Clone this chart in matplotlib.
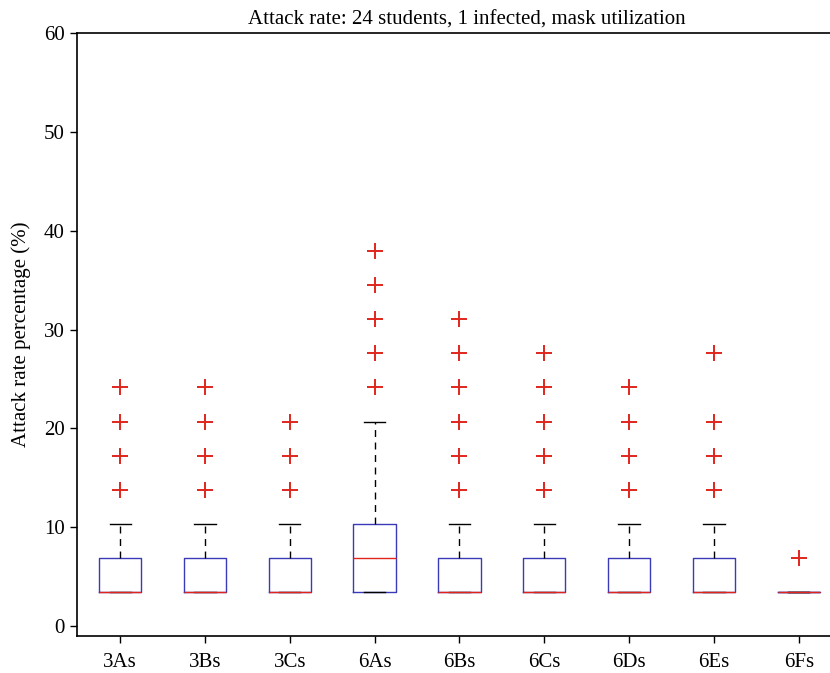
import numpy as np
import matplotlib.pyplot as plt

# attack-rate summary per classroom scenario (%)
groups = ['3As', '3Bs', '3Cs', '6As', '6Bs', '6Cs', '6Ds', '6Es', '6Fs']
q1 = [3.45, 3.45, 3.45, 3.45, 3.45, 3.45, 3.45, 3.45, 3.45]
med = [3.45, 3.45, 3.45, 6.90, 3.45, 3.45, 3.45, 3.45, 3.45]
q3 = [6.90, 6.90, 6.90, 10.34, 6.90, 6.90, 6.90, 6.90, 3.45]
wlo = [3.45, 3.45, 3.45, 3.45, 3.45, 3.45, 3.45, 3.45, 3.45]
whi = [10.34, 10.34, 10.34, 20.69, 10.34, 10.34, 10.34, 10.34, 3.45]
outliers = [
    [13.79, 17.24, 20.69, 24.14],
    [13.79, 17.24, 20.69, 24.14],
    [13.79, 17.24, 20.69],
    [24.14, 27.59, 31.03, 34.48, 37.93],
    [13.79, 17.24, 20.69, 24.14, 27.59, 31.03],
    [13.79, 17.24, 20.69, 24.14, 27.59],
    [13.79, 17.24, 20.69, 24.14],
    [13.79, 17.24, 20.69, 27.59],
    [6.90],
]

plt.rcParams['font.family'] = ['Liberation Serif', 'DejaVu Serif']

stats = []
for i, g in enumerate(groups):
    stats.append({'label': g, 'q1': q1[i], 'med': med[i], 'q3': q3[i],
                  'whislo': wlo[i], 'whishi': whi[i], 'fliers': outliers[i]})

fig = plt.figure(figsize=(8.3, 6.73), dpi=100)
ax = fig.add_axes([0.0928, 0.055, 0.94, 0.896])

BLUE = '#3a3ab8'
RED = '#e0261c'
pos = np.arange(1, len(groups) + 1)
ax.bxp(stats, positions=pos, widths=0.5, capwidths=0.25,
       boxprops=dict(color=BLUE, linewidth=1.0),
       medianprops=dict(color=RED, linewidth=1.0),
       whiskerprops=dict(color='black', linestyle=(0, (5, 4)), linewidth=1.0),
       capprops=dict(color='black', linewidth=1.0),
       flierprops=dict(marker='+', markeredgecolor=RED, markersize=12,
                       markeredgewidth=1.4, linestyle='none'))

ax.set_xlim(0.49, 9.69)
ax.set_ylim(-1.0, 60)
ax.set_yticks([0, 10, 20, 30, 40, 50, 60])
ax.set_xticks(pos)
ax.set_xticklabels(groups)
ax.tick_params(direction='out', length=5, width=1, labelsize=15, pad=4)
ax.tick_params(axis='x', pad=7)
ax.spines['right'].set_visible(False)
for s in ['left', 'bottom', 'top']:
    ax.spines[s].set_linewidth(1.2)
ax.set_ylabel('Attack rate percentage (%)', fontsize=15, labelpad=9)
ax.set_title('Attack rate: 24 students, 1 infected, mask utilization',
             fontsize=15, pad=6)

fig.savefig('out.png', dpi=100)
